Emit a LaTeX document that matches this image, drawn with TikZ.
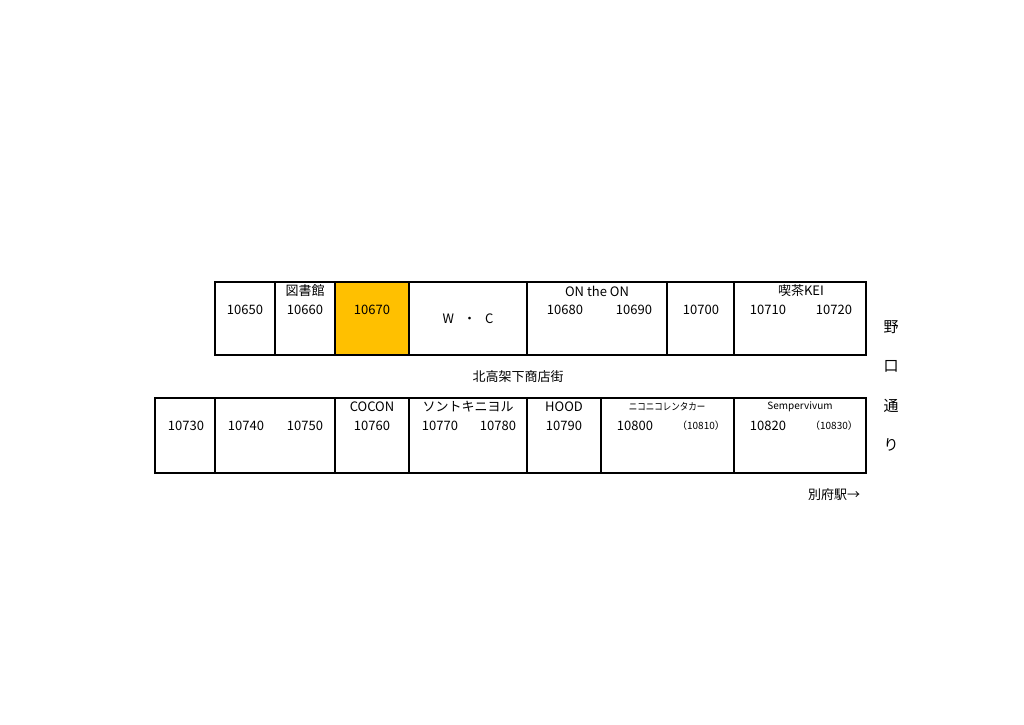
\documentclass[tikz,border=0pt]{standalone}
\usepackage{fontspec}
\setmainfont{Noto Sans CJK JP}
\begin{document}
\begin{tikzpicture}[x=1pt,y=-1pt,
  cell/.style={draw=black,line width=1.2pt},
  t/.style={inner sep=0pt,font=\fontsize{13}{15}\selectfont},
  ts/.style={inner sep=0pt,font=\fontsize{10}{12}\selectfont}]
\useasboundingbox (0,0) rectangle (1024,724);
% top row
\fill[fill={rgb,255:red,255;green,192;blue,0}] (335,282) rectangle (409,355);
\foreach \a/\b in {215/275,275/335,335/409,409/527,527/667,667/734,734/866}
  \draw[cell] (\a,282) rectangle (\b,355);
% bottom row
\foreach \a/\b in {155/215,215/335,335/409,409/527,527/601,601/734,734/866}
  \draw[cell] (\a,398) rectangle (\b,473);
% top labels
\node[t] (n1) at (305,291) {図書館};
\node[t] (n2) at (245,310) {10650};
\node[t] (n3) at (305,310) {10660};
\node[t] (n4) at (372,310) {10670};
\node[t] (n5) at (468,319) {W\hspace{0.7em}・\hspace{0.7em}C};
\node[t] (n6) at (597,291) {ON the ON};
\node[t] (n7) at (565,310) {10680};
\node[t] (n8) at (634,310) {10690};
\node[t] (n9) at (701,310) {10700};
\node[t] (n10) at (801,291) {喫茶KEI};
\node[t] (n11) at (768,310) {10710};
\node[t] (n12) at (834,310) {10720};
% middle
\node[t] (m) at (518,377) {北高架下商店街};
% bottom labels
\node[t] (b1) at (372,407) {COCON};
\node[t] (b2) at (468,407) {ソントキニヨル};
\node[t] (b3) at (564,407) {HOOD};
\node[ts,xscale=0.85] (b4) at (667,407) {ニコニコレンタカー};
\node[ts] (b5) at (800,407) {Sempervivum};
\node[t] (c1) at (186,426) {10730};
\node[t] (c2) at (246,426) {10740};
\node[t] (c3) at (305,426) {10750};
\node[t] (c4) at (372,426) {10760};
\node[t] (c5) at (440,426) {10770};
\node[t] (c6) at (498,426) {10780};
\node[t] (c7) at (564,426) {10790};
\node[t] (c8) at (635,426) {10800};
\node[ts] (c9) at (701,426) {（10810）};
\node[t] (c10) at (768,426) {10820};
\node[ts] (c11) at (834,426) {（10830）};
% right side
\node[t,font=\fontsize{15}{17}\selectfont] (r1) at (891,327) {野};
\node[t,font=\fontsize{15}{17}\selectfont] (r2) at (891,366) {口};
\node[t,font=\fontsize{15}{17}\selectfont] (r3) at (891,406) {通};
\node[t,font=\fontsize{15}{17}\selectfont] (r4) at (891,445) {り};
\node[t] (s) at (834,495) {別府駅→};
\end{tikzpicture}
\end{document}
